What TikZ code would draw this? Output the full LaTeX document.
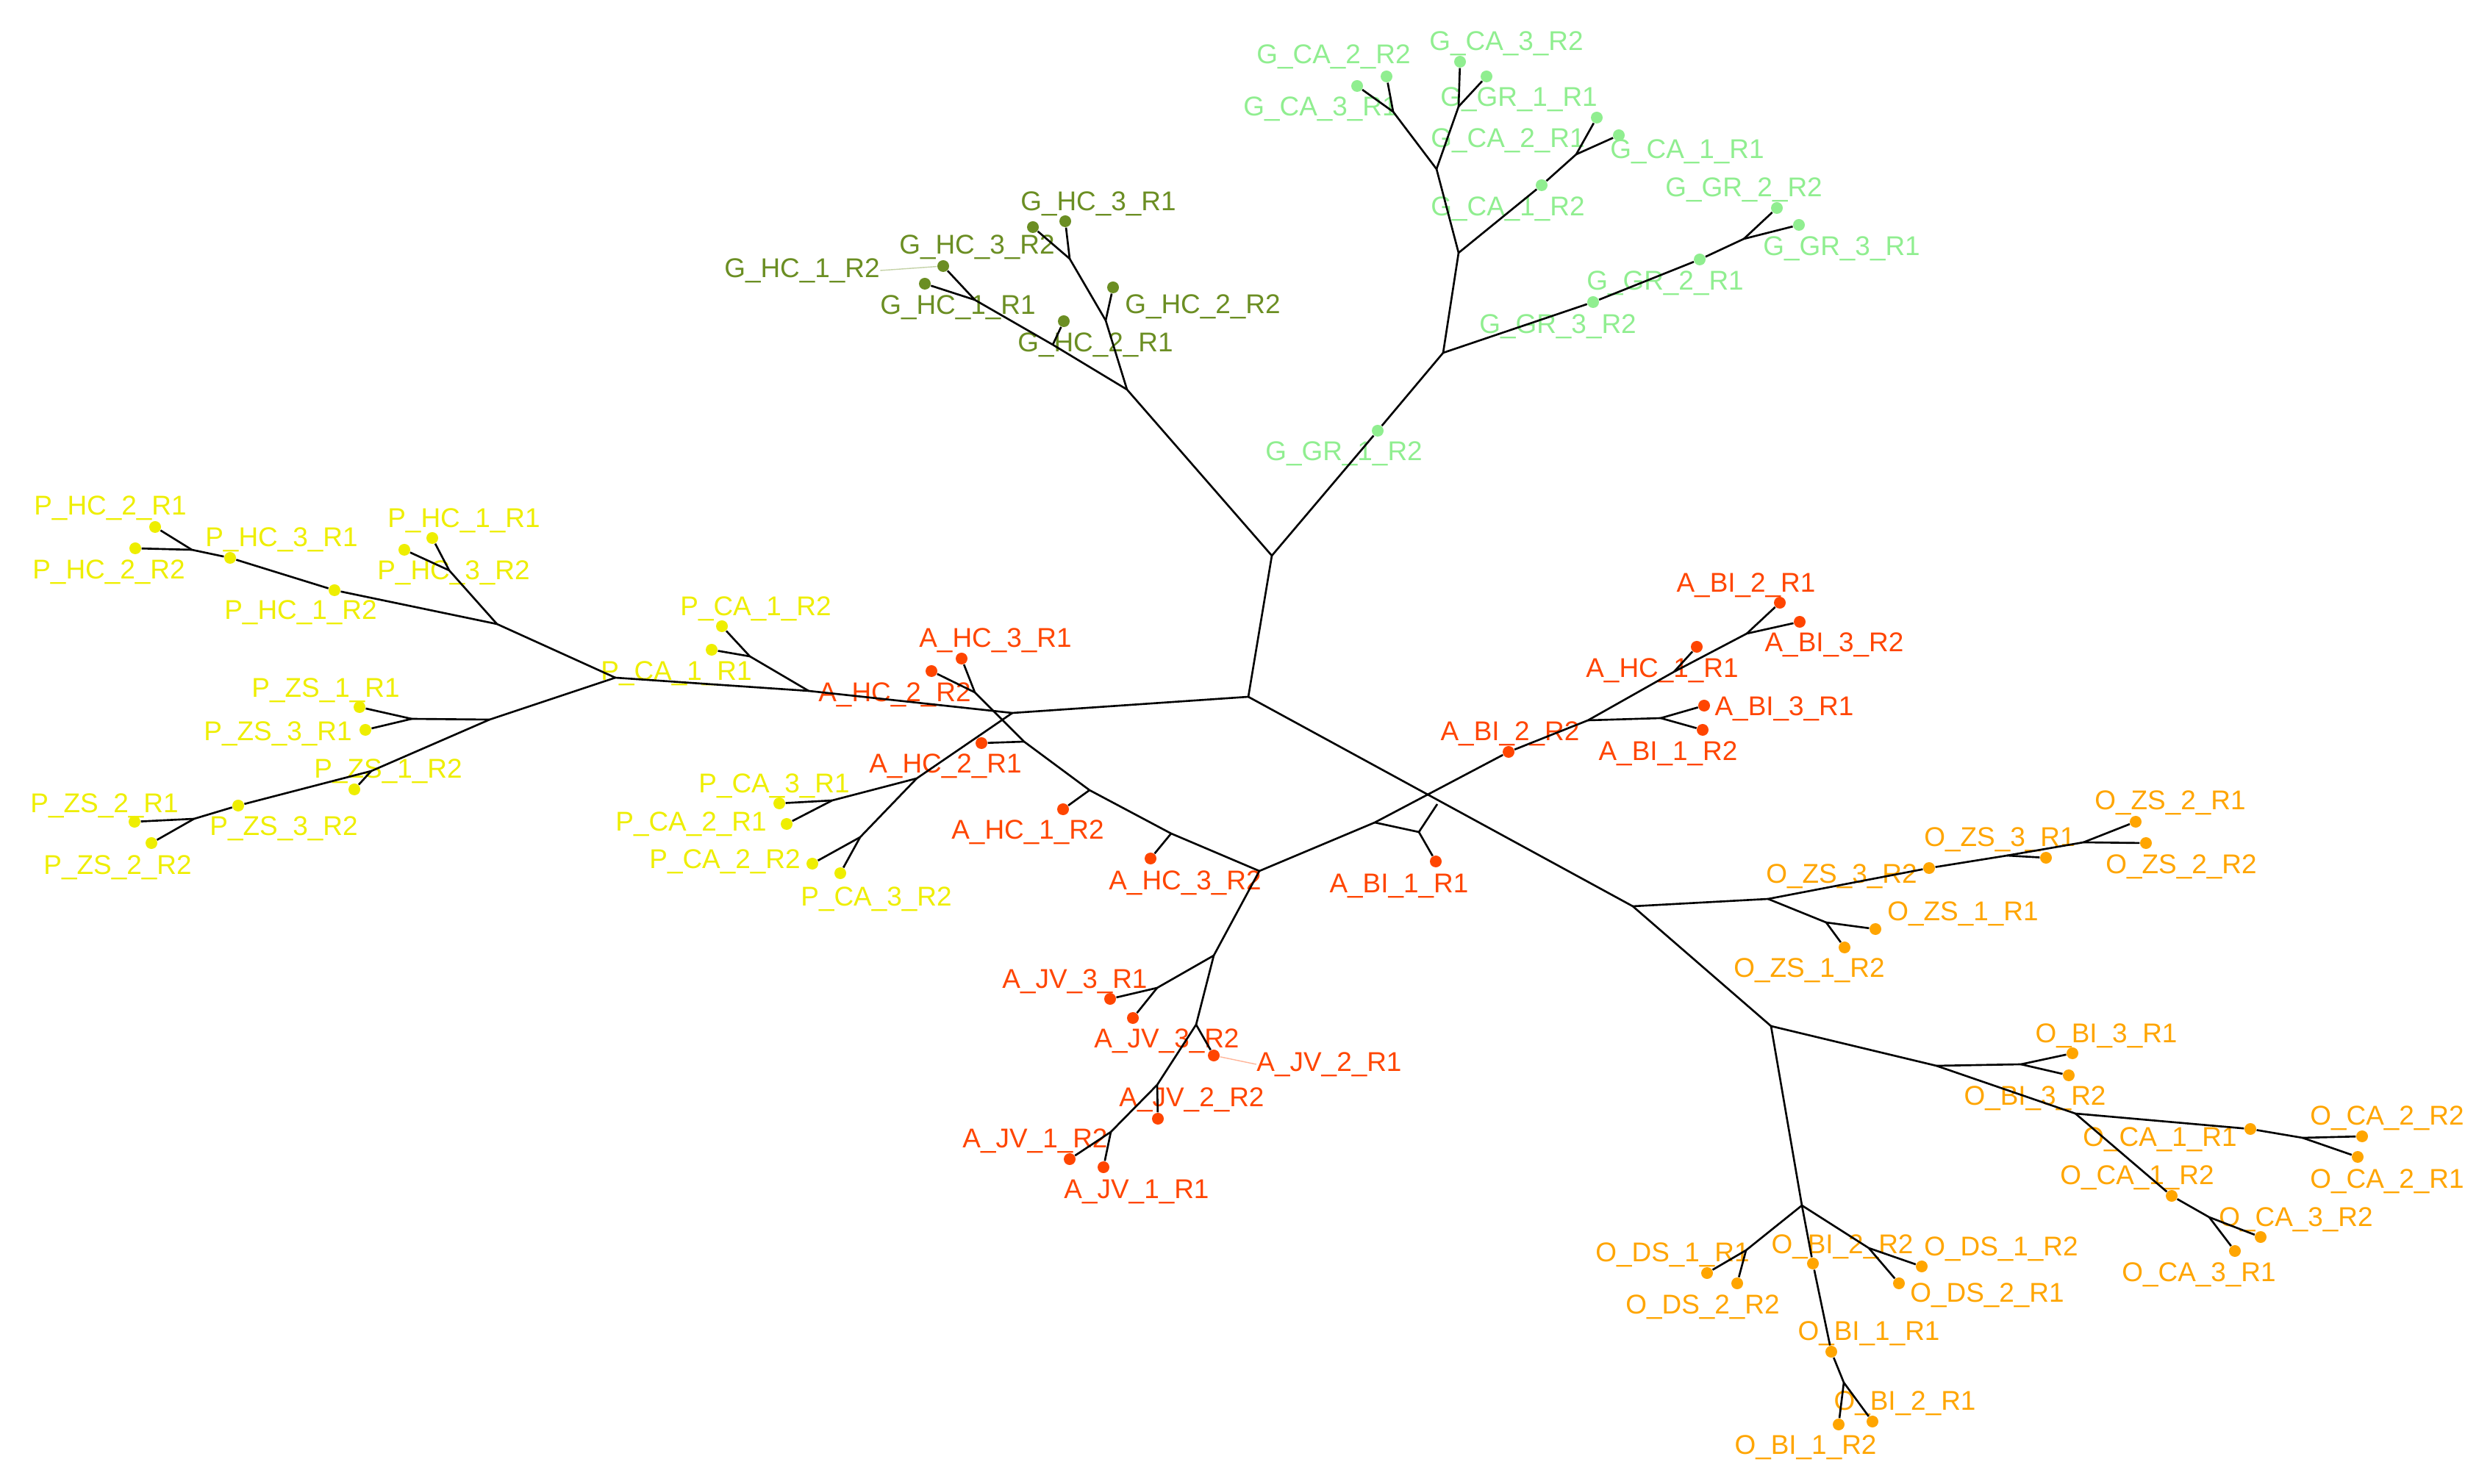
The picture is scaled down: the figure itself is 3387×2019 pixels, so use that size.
\documentclass[tikz,border=0pt]{standalone}
\usepackage{fontspec}
\setmainfont{Liberation Sans}
\definecolor{grlight}{RGB}{144,238,144}
\definecolor{grdark}{RGB}{107,142,35}
\definecolor{yel}{RGB}{238,238,0}
\definecolor{ared}{RGB}{255,69,0}
\definecolor{oran}{RGB}{255,165,0}
\tikzset{
  branch/.style={draw=black, line width=0.75pt},
  tip/.style={circle, inner sep=0pt, minimum size=0.16cm},
  lbl/.style={inner sep=0pt, yshift=-0.02cm, font=\fontsize{10.5}{12}\selectfont},
  leader/.style={line width=0.4pt},
  tipGL/.style={tip, fill=grlight}, lblGL/.style={lbl, text=grlight},
  tipGD/.style={tip, fill=grdark},  lblGD/.style={lbl, text=grdark},
  tipP/.style={tip, fill=yel},      lblP/.style={lbl, text=yel},
  tipA/.style={tip, fill=ared},     lblA/.style={lbl, text=ared},
  tipO/.style={tip, fill=oran},     lblO/.style={lbl, text=oran},
}

\begin{document}
\begin{tikzpicture}[x=0.01cm, y=-0.01cm]
    \useasboundingbox (0,0) rectangle (3387,2019);
    % centre
    \coordinate (C0) at (1698,948);
    \coordinate (C1) at (1730,756);

    % green GR / CA
    \coordinate (G0) at (1963,480);
    \coordinate (G1) at (1984,344);
    \coordinate (G2) at (2372,325);
    \coordinate (G3) at (1954,230);
    \coordinate (G4) at (2144,210);
    \coordinate (G5) at (1895,152);
    \coordinate (G6) at (1984,145);
    \node(GGR1R2) [tipGL] at (1874,586) {};
    \node(GGR3R2) [tipGL] at (2167,411) {};
    \node(GGR2R1) [tipGL] at (2312,353) {};
    \node(GGR2R2) [tipGL] at (2417,283) {};
    \node(GGR3R1) [tipGL] at (2447,306) {};
    \node(GCA1R2) [tipGL] at (2097,252) {};
    \node(GCA2R1) [tipGL] at (2172,160) {};
    \node(GCA1R1) [tipGL] at (2202,184) {};
    \node(GCA3R1) [tipGL] at (1846,117) {};
    \node(GCA2R2) [tipGL] at (1886,104) {};
    \node(GCA3R2) [tipGL] at (1986,84) {};
    \node(GGR1R1) [tipGL] at (2022,104) {};
    \node(lGCA2R2) [lblGL] at (1814,75)  {G\_CA\_2\_R2};
    \node(lGCA3R2) [lblGL] at (2049,57)  {G\_CA\_3\_R2};
    \node(lGCA3R1) [lblGL] at (1796,146) {G\_CA\_3\_R1};
    \node(lGGR1R1) [lblGL] at (2066,133) {G\_GR\_1\_R1};
    \node(lGCA2R1) [lblGL] at (2051,189) {G\_CA\_2\_R1};
    \node(lGCA1R1) [lblGL] at (2295,204) {G\_CA\_1\_R1};
    \node(lGCA1R2) [lblGL] at (2051,282) {G\_CA\_1\_R2};
    \node(lGGR2R2) [lblGL] at (2372,256) {G\_GR\_2\_R2};
    \node(lGGR3R1) [lblGL] at (2505,336) {G\_GR\_3\_R1};
    \node(lGGR2R1) [lblGL] at (2265,383) {G\_GR\_2\_R1};
    \node(lGGR3R2) [lblGL] at (2119,442) {G\_GR\_3\_R2};
    \node(lGGR1R2) [lblGL] at (1828,615) {G\_GR\_1\_R2};

    % green HC
    \coordinate (H0) at (1533,530);
    \coordinate (H1) at (1504,436);
    \coordinate (H2) at (1455,352);
    \coordinate (H3) at (1432,469);
    \coordinate (H4) at (1326,408);
    \node(GHC2R2) [tipGD] at (1514,391) {};
    \node(GHC3R2) [tipGD] at (1405,309) {};
    \node(GHC3R1) [tipGD] at (1449,301) {};
    \node(GHC2R1) [tipGD] at (1447,437) {};
    \node(GHC1R1) [tipGD] at (1258,386) {};
    \node(GHC1R2) [tipGD] at (1283,362) {};
    \node(lGHC3R1) [lblGD] at (1494,275) {G\_HC\_3\_R1};
    \node(lGHC3R2) [lblGD] at (1329,334) {G\_HC\_3\_R2};
    \node(lGHC1R2) [lblGD] at (1091,366) {G\_HC\_1\_R2};
    \node(lGHC1R1) [lblGD] at (1303,416) {G\_HC\_1\_R1};
    \node(lGHC2R2) [lblGD] at (1636,415) {G\_HC\_2\_R2};
    \node(lGHC2R1) [lblGD] at (1490,467) {G\_HC\_2\_R1};

    % yellow P
    \coordinate (P0) at (837,922);
    \coordinate (P1) at (676,849);
    \coordinate (P2) at (611,776);
    \coordinate (P3) at (261,748);
    \coordinate (P4) at (666,979);
    \coordinate (P5) at (560,978);
    \coordinate (P6) at (505,1049);
    \coordinate (P7) at (264,1114);
    \coordinate (PC0) at (1100,940);
    \coordinate (PC1) at (1020,893);
    \coordinate (Q0) at (1377,970);
    \coordinate (Q1) at (1247,1059);
    \coordinate (Q2) at (1132,1089);
    \coordinate (Q3) at (1170,1139);
    \node(PHC1R1) [tipP] at (588,732) {};
    \node(PHC3R2) [tipP] at (550,748) {};
    \node(PHC1R2) [tipP] at (455,803) {};
    \node(PHC3R1) [tipP] at (313,759) {};
    \node(PHC2R1) [tipP] at (211,717) {};
    \node(PHC2R2) [tipP] at (184,746) {};
    \node(PZS1R1) [tipP] at (489,962) {};
    \node(PZS3R1) [tipP] at (497,993) {};
    \node(PZS1R2) [tipP] at (482,1074) {};
    \node(PZS3R2) [tipP] at (324,1096) {};
    \node(PZS2R1) [tipP] at (183,1118) {};
    \node(PZS2R2) [tipP] at (206,1147) {};
    \node(PCA1R2) [tipP] at (982,852) {};
    \node(PCA1R1) [tipP] at (968,884) {};
    \node(PCA3R1) [tipP] at (1060,1093) {};
    \node(PCA2R1) [tipP] at (1070,1121) {};
    \node(PCA2R2) [tipP] at (1105,1175) {};
    \node(PCA3R2) [tipP] at (1143,1188) {};
    \node(lPHC2R1) [lblP] at (150,689)  {P\_HC\_2\_R1};
    \node(lPHC2R2) [lblP] at (148,776)  {P\_HC\_2\_R2};
    \node(lPHC3R1) [lblP] at (383,732)  {P\_HC\_3\_R1};
    \node(lPHC1R2) [lblP] at (409,831)  {P\_HC\_1\_R2};
    \node(lPHC1R1) [lblP] at (631,706)  {P\_HC\_1\_R1};
    \node(lPHC3R2) [lblP] at (617,777)  {P\_HC\_3\_R2};
    \node(lPZS1R1) [lblP] at (443,937)  {P\_ZS\_1\_R1};
    \node(lPZS3R1) [lblP] at (378,996)  {P\_ZS\_3\_R1};
    \node(lPZS1R2) [lblP] at (528,1047) {P\_ZS\_1\_R2};
    \node(lPZS2R1) [lblP] at (142,1094) {P\_ZS\_2\_R1};
    \node(lPZS3R2) [lblP] at (386,1125) {P\_ZS\_3\_R2};
    \node(lPZS2R2) [lblP] at (160,1178) {P\_ZS\_2\_R2};
    \node(lPCA1R2) [lblP] at (1028,826) {P\_CA\_1\_R2};
    \node(lPCA1R1) [lblP] at (920,914)  {P\_CA\_1\_R1};
    \node(lPCA3R1) [lblP] at (1053,1067) {P\_CA\_3\_R1};
    \node(lPCA2R1) [lblP] at (940,1119) {P\_CA\_2\_R1};
    \node(lPCA2R2) [lblP] at (986,1170) {P\_CA\_2\_R2};
    \node(lPCA3R2) [lblP] at (1192,1221) {P\_CA\_3\_R2};

    % red A
    \coordinate (AH1) at (1326,942);
    \coordinate (AH2) at (1393,1009);
    \coordinate (AH3) at (1482,1075);
    \coordinate (AH4) at (1593,1134);
    \coordinate (AH5) at (1713,1185);
    \coordinate (J1) at (1651,1300);
    \coordinate (J2) at (1574,1344);
    \coordinate (J3) at (1627,1394);
    \coordinate (J4) at (1574,1476);
    \coordinate (J5) at (1511,1540);
    \coordinate (B1) at (1870,1119);
    \coordinate (BJ) at (1930,1132);
    \coordinate (BK) at (1955,1094);
    \coordinate (B2) at (2160,980);
    \coordinate (B3) at (2259,977);
    \coordinate (B4) at (2277,914);
    \coordinate (B5) at (2376,862);
    \node(AHC3R1) [tipA] at (1308,896) {};
    \node(AHC2R2) [tipA] at (1267,913) {};
    \node(AHC2R1) [tipA] at (1335,1011) {};
    \node(AHC1R2) [tipA] at (1446,1101) {};
    \node(AHC3R2) [tipA] at (1565,1168) {};
    \node(AJV3R1) [tipA] at (1510,1359) {};
    \node(AJV3R2) [tipA] at (1541,1385) {};
    \node(AJV2R1) [tipA] at (1651,1436) {};
    \node(AJV2R2) [tipA] at (1575,1522) {};
    \node(AJV1R2) [tipA] at (1455,1577) {};
    \node(AJV1R1) [tipA] at (1501,1588) {};
    \node(ABI1R1) [tipA] at (1953,1172) {};
    \node(ABI2R2) [tipA] at (2052,1023) {};
    \node(ABI3R1) [tipA] at (2318,960) {};
    \node(ABI1R2) [tipA] at (2316,993) {};
    \node(AHC1R1) [tipA] at (2308,880) {};
    \node(ABI2R1) [tipA] at (2421,820) {};
    \node(ABI3R2) [tipA] at (2448,846) {};
    \node(lAHC3R1) [lblA] at (1354,869)  {A\_HC\_3\_R1};
    \node(lAHC2R2) [lblA] at (1217,943)  {A\_HC\_2\_R2};
    \node(lAHC2R1) [lblA] at (1286,1040) {A\_HC\_2\_R1};
    \node(lAHC1R2) [lblA] at (1398,1130) {A\_HC\_1\_R2};
    \node(lAHC3R2) [lblA] at (1612,1199) {A\_HC\_3\_R2};
    \node(lAJV3R1) [lblA] at (1462,1333) {A\_JV\_3\_R1};
    \node(lAJV3R2) [lblA] at (1587,1414) {A\_JV\_3\_R2};
    \node(lAJV2R1) [lblA] at (1808,1446) {A\_JV\_2\_R1};
    \node(lAJV2R2) [lblA] at (1621,1494) {A\_JV\_2\_R2};
    \node(lAJV1R2) [lblA] at (1408,1550) {A\_JV\_1\_R2};
    \node(lAJV1R1) [lblA] at (1546,1619) {A\_JV\_1\_R1};
    \node(lABI1R1) [lblA] at (1903,1203) {A\_BI\_1\_R1};
    \node(lABI2R2) [lblA] at (2054,996)  {A\_BI\_2\_R2};
    \node(lAHC1R1) [lblA] at (2261,910)  {A\_HC\_1\_R1};
    \node(lABI3R1) [lblA] at (2427,962)  {A\_BI\_3\_R1};
    \node(lABI1R2) [lblA] at (2269,1023) {A\_BI\_1\_R2};
    \node(lABI2R1) [lblA] at (2375,794)  {A\_BI\_2\_R1};
    \node(lABI3R2) [lblA] at (2495,875)  {A\_BI\_3\_R2};

    % orange O
    \coordinate (O0) at (2221,1233);
    \coordinate (O1) at (2405,1223);
    \coordinate (O2) at (2484,1255);
    \coordinate (O3) at (2834,1146);
    \coordinate (O3a) at (2730,1164);
    \coordinate (O4) at (2409,1396);
    \coordinate (O5) at (2634,1450);
    \coordinate (O6) at (2749,1448);
    \coordinate (O7) at (2823,1515);
    \coordinate (O8) at (3132,1548);
    \coordinate (O9) at (3005,1656);
    \coordinate (O10) at (2451,1640);
    \coordinate (O11) at (2375,1701);
    \coordinate (O12) at (2542,1698);
    \coordinate (O13) at (2508,1881);
    \node(OZS3R2) [tipO] at (2624,1181) {};
    \node(OZS3R1) [tipO] at (2783,1167) {};
    \node(OZS2R1) [tipO] at (2905,1118) {};
    \node(OZS2R2) [tipO] at (2919,1147) {};
    \node(OZS1R1) [tipO] at (2551,1264) {};
    \node(OZS1R2) [tipO] at (2509,1289) {};
    \node(OBI3R1) [tipO] at (2819,1433) {};
    \node(OBI3R2) [tipO] at (2814,1463) {};
    \node(OCA1R1) [tipO] at (3061,1536) {};
    \node(OCA2R2) [tipO] at (3213,1546) {};
    \node(OCA2R1) [tipO] at (3207,1574) {};
    \node(OCA1R2) [tipO] at (2954,1627) {};
    \node(OCA3R2) [tipO] at (3075,1683) {};
    \node(OCA3R1) [tipO] at (3040,1702) {};
    \node(ODS1R1) [tipO] at (2322,1732) {};
    \node(ODS2R2) [tipO] at (2363,1746) {};
    \node(ODS1R2) [tipO] at (2614,1723) {};
    \node(ODS2R1) [tipO] at (2583,1746) {};
    \node(OBI2R2) [tipO] at (2466,1719) {};
    \node(OBI1R1) [tipO] at (2491,1839) {};
    \node(OBI1R2) [tipO] at (2501,1938) {};
    \node(OBI2R1) [tipO] at (2547,1934) {};
    \node(lOZS2R1) [lblO] at (2952,1090) {O\_ZS\_2\_R1};
    \node(lOZS3R1) [lblO] at (2720,1140) {O\_ZS\_3\_R1};
    \node(lOZS2R2) [lblO] at (2967,1177) {O\_ZS\_2\_R2};
    \node(lOZS3R2) [lblO] at (2505,1190) {O\_ZS\_3\_R2};
    \node(lOZS1R1) [lblO] at (2670,1241) {O\_ZS\_1\_R1};
    \node(lOZS1R2) [lblO] at (2461,1318) {O\_ZS\_1\_R2};
    \node(lOBI3R1) [lblO] at (2865,1407) {O\_BI\_3\_R1};
    \node(lOBI3R2) [lblO] at (2768,1492) {O\_BI\_3\_R2};
    \node(lOCA2R2) [lblO] at (3247,1519) {O\_CA\_2\_R2};
    \node(lOCA1R1) [lblO] at (2938,1548) {O\_CA\_1\_R1};
    \node(lOCA2R1) [lblO] at (3247,1605) {O\_CA\_2\_R1};
    \node(lOCA1R2) [lblO] at (2907,1600) {O\_CA\_1\_R2};
    \node(lOCA3R2) [lblO] at (3123,1657) {O\_CA\_3\_R2};
    \node(lOCA3R1) [lblO] at (2991,1732) {O\_CA\_3\_R1};
    \node(lODS1R1) [lblO] at (2275,1705) {O\_DS\_1\_R1};
    \node(lOBI2R2) [lblO] at (2506,1694) {O\_BI\_2\_R2};
    \node(lODS1R2) [lblO] at (2722,1697) {O\_DS\_1\_R2};
    \node(lODS2R2) [lblO] at (2316,1776) {O\_DS\_2\_R2};
    \node(lODS2R1) [lblO] at (2703,1760) {O\_DS\_2\_R1};
    \node(lOBI1R1) [lblO] at (2542,1812) {O\_BI\_1\_R1};
    \node(lOBI2R1) [lblO] at (2591,1907) {O\_BI\_2\_R1};
    \node(lOBI1R2) [lblO] at (2456,1967) {O\_BI\_1\_R2};

    % centre branches
    \draw [branch] (C0) to (C1);
    \draw [branch] (C0) to (Q0);
    \draw [branch] (C0) to (O0);

    % green branches
    \draw [branch] (C1) to (H0);
    \draw [branch] (C1) to (GGR1R2);
    \draw [branch] (GGR1R2) to (G0);
    \draw [branch] (G0) to (G1);
    \draw [branch] (G0) to (GGR3R2);
    \draw [branch] (GGR3R2) to (GGR2R1);
    \draw [branch] (GGR2R1) to (G2);
    \draw [branch] (G2) to (GGR2R2);
    \draw [branch] (G2) to (GGR3R1);
    \draw [branch] (G1) to (G3);
    \draw [branch] (G1) to (GCA1R2);
    \draw [branch] (GCA1R2) to (G4);
    \draw [branch] (G4) to (GCA2R1);
    \draw [branch] (G4) to (GCA1R1);
    \draw [branch] (G3) to (G5);
    \draw [branch] (G3) to (G6);
    \draw [branch] (G5) to (GCA3R1);
    \draw [branch] (G5) to (GCA2R2);
    \draw [branch] (G6) to (GCA3R2);
    \draw [branch] (G6) to (GGR1R1);
    \draw [branch] (H0) to (H1);
    \draw [branch] (H1) to (GHC2R2);
    \draw [branch] (H1) to (H2);
    \draw [branch] (H2) to (GHC3R2);
    \draw [branch] (H2) to (GHC3R1);
    \draw [branch] (H0) to (H3);
    \draw [branch] (H3) to (GHC2R1);
    \draw [branch] (H3) to (H4);
    \draw [branch] (H4) to (GHC1R1);
    \draw [branch] (H4) to (GHC1R2);
    \draw [leader, draw=grdark!40] (GHC1R2) to (lGHC1R2.east);

    % yellow branches
    \draw [branch] (Q0) to (PC0);
    \draw [branch] (PC0) to (P0);
    \draw [branch] (PC0) to (PC1);
    \draw [branch] (PC1) to (PCA1R2);
    \draw [branch] (PC1) to (PCA1R1);
    \draw [branch] (Q0) to (Q1);
    \draw [branch] (Q1) to (Q2);
    \draw [branch] (Q2) to (PCA3R1);
    \draw [branch] (Q2) to (PCA2R1);
    \draw [branch] (Q1) to (Q3);
    \draw [branch] (Q3) to (PCA2R2);
    \draw [branch] (Q3) to (PCA3R2);
    \draw [branch] (P0) to (P1);
    \draw [branch] (P1) to (P2);
    \draw [branch] (P2) to (PHC1R1);
    \draw [branch] (P2) to (PHC3R2);
    \draw [branch] (P1) to (PHC1R2);
    \draw [branch] (PHC1R2) to (PHC3R1);
    \draw [branch] (PHC3R1) to (P3);
    \draw [branch] (P3) to (PHC2R1);
    \draw [branch] (P3) to (PHC2R2);
    \draw [branch] (P0) to (P4);
    \draw [branch] (P4) to (P5);
    \draw [branch] (P5) to (PZS1R1);
    \draw [branch] (P5) to (PZS3R1);
    \draw [branch] (P4) to (P6);
    \draw [branch] (P6) to (PZS1R2);
    \draw [branch] (P6) to (PZS3R2);
    \draw [branch] (PZS3R2) to (P7);
    \draw [branch] (P7) to (PZS2R1);
    \draw [branch] (P7) to (PZS2R2);

    % red branches
    \draw [branch] (AH5) to (AH4);
    \draw [branch] (AH4) to (AHC3R2);
    \draw [branch] (AH4) to (AH3);
    \draw [branch] (AH3) to (AHC1R2);
    \draw [branch] (AH3) to (AH2);
    \draw [branch] (AH2) to (AHC2R1);
    \draw [branch] (AH2) to (AH1);
    \draw [branch] (AH1) to (AHC3R1);
    \draw [branch] (AH1) to (AHC2R2);
    \draw [branch] (AH5) to (J1);
    \draw [branch] (J1) to (J2);
    \draw [branch] (J2) to (AJV3R1);
    \draw [branch] (J2) to (AJV3R2);
    \draw [branch] (J1) to (J3);
    \draw [branch] (J3) to (AJV2R1);
    \draw [branch] (J3) to (J4);
    \draw [branch] (J4) to (AJV2R2);
    \draw [branch] (J4) to (J5);
    \draw [branch] (J5) to (AJV1R2);
    \draw [branch] (J5) to (AJV1R1);
    \draw [leader, draw=ared!40] (AJV2R1) to (lAJV2R1.west);
    \draw [branch] (AH5) to (B1);
    \draw [branch] (B1) to (BJ);
    \draw [branch] (BJ) to (BK);
    \draw [branch] (BJ) to (ABI1R1);
    \draw [branch] (B1) to (ABI2R2);
    \draw [branch] (ABI2R2) to (B2);
    \draw [branch] (B2) to (B3);
    \draw [branch] (B3) to (ABI3R1);
    \draw [branch] (B3) to (ABI1R2);
    \draw [branch] (B2) to (B4);
    \draw [branch] (B4) to (AHC1R1);
    \draw [branch] (B4) to (B5);
    \draw [branch] (B5) to (ABI2R1);
    \draw [branch] (B5) to (ABI3R2);

    % orange branches
    \draw [branch] (O0) to (O1);
    \draw [branch] (O1) to (OZS3R2);
    \draw [branch] (OZS3R2) to (O3a);
    \draw [branch] (O3a) to (OZS3R1);
    \draw [branch] (O3a) to (O3);
    \draw [branch] (O3) to (OZS2R1);
    \draw [branch] (O3) to (OZS2R2);
    \draw [branch] (O1) to (O2);
    \draw [branch] (O2) to (OZS1R1);
    \draw [branch] (O2) to (OZS1R2);
    \draw [branch] (O0) to (O4);
    \draw [branch] (O4) to (O5);
    \draw [branch] (O5) to (O6);
    \draw [branch] (O6) to (OBI3R1);
    \draw [branch] (O6) to (OBI3R2);
    \draw [branch] (O5) to (O7);
    \draw [branch] (O7) to (OCA1R1);
    \draw [branch] (OCA1R1) to (O8);
    \draw [branch] (O8) to (OCA2R2);
    \draw [branch] (O8) to (OCA2R1);
    \draw [branch] (O7) to (OCA1R2);
    \draw [branch] (OCA1R2) to (O9);
    \draw [branch] (O9) to (OCA3R2);
    \draw [branch] (O9) to (OCA3R1);
    \draw [branch] (O4) to (O10);
    \draw [branch] (O10) to (O11);
    \draw [branch] (O11) to (ODS1R1);
    \draw [branch] (O11) to (ODS2R2);
    \draw [branch] (O10) to (O12);
    \draw [branch] (O12) to (ODS1R2);
    \draw [branch] (O12) to (ODS2R1);
    \draw [branch] (O10) to (OBI2R2);
    \draw [branch] (OBI2R2) to (OBI1R1);
    \draw [branch] (OBI1R1) to (O13);
    \draw [branch] (O13) to (OBI1R2);
    \draw [branch] (O13) to (OBI2R1);
\end{tikzpicture}
\end{document}
